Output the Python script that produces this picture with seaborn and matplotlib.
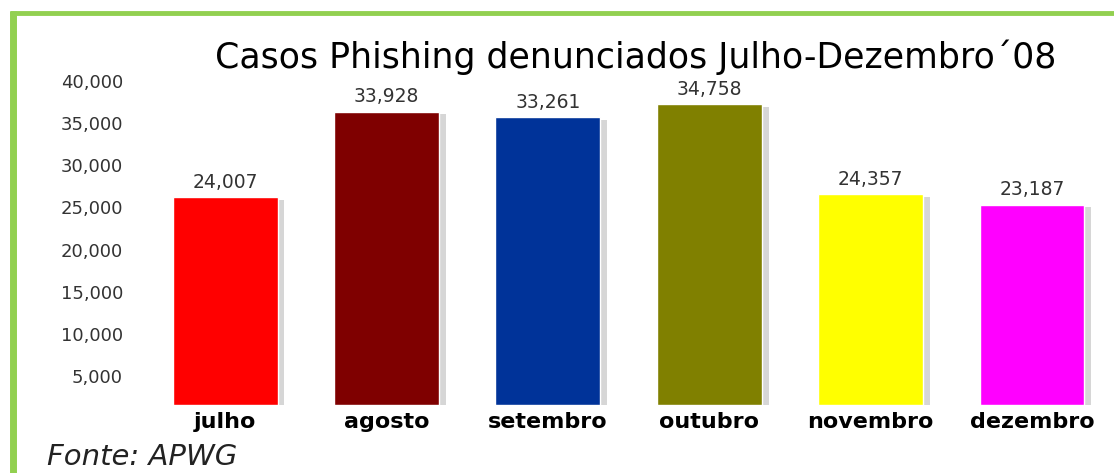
import numpy as np
import pandas as pd
import matplotlib
matplotlib.use("Agg")
import matplotlib.pyplot as plt
import matplotlib.patheffects as pe
from matplotlib.lines import Line2D
import seaborn as sns

# data
meses = ["julho", "agosto", "setembro", "outubro", "novembro", "dezembro"]
casos = [24007, 33928, 33261, 34758, 24357, 23187]
cores = ["#ff0000", "#7f0000", "#003399", "#808000", "#ffff00", "#ff00ff"]
ticks = [5000, 10000, 15000, 20000, 25000, 30000, 35000, 40000]

df = pd.DataFrame({"mes": meses, "casos": casos})

sns.set_style("white")
plt.rcParams['font.family'] = ['DejaVu Sans']

fig = plt.figure(figsize=(11.14, 4.73), dpi=100)
W, H = 1114, 473
ax = fig.add_axes([130 / W, (H - 405) / H, (1110 - 130) / W, (405 - 60) / H])

sns.barplot(data=df, x="mes", y="casos", hue="mes", palette=cores,
            legend=False, width=0.65, saturation=1, ax=ax)

shadow = [pe.SimplePatchShadow(offset=(5, -2), shadow_rgbFace="#999999", alpha=0.4), pe.Normal()]
for c in ax.containers:
    for p in c:
        p.set_path_effects(shadow)
    ax.bar_label(c, labels=["{:,}".format(int(v)) for v in c.datavalues],
                 padding=4, fontsize=13.5, color="#333333")

ax.set_xlim(-0.589, 5.483)
ax.set_ylim(0, 39900)
ax.set_yticks([])
ax.set_xlabel("")
ax.set_ylabel("")
ax.tick_params(axis="x", length=0, pad=5)
for lab in ax.get_xticklabels():
    lab.set_fontsize(16)
    lab.set_fontweight("bold")
    lab.set_color("black")
sns.despine(ax=ax, left=True, bottom=True)

# eixo dos rótulos (deslocado como no original)
ax2 = ax.twinx()
ax2.yaxis.tick_left()
ax2.set_ylim(1560, 42490)
ax2.set_yticks(ticks)
ax2.set_yticklabels(["{:,}".format(t) for t in ticks], fontsize=13, color="#333333")
ax2.tick_params(axis="y", length=0, pad=5)
for s in ax2.spines.values():
    s.set_visible(False)

fig.text(636 / W, 1 - 57 / H, "Casos Phishing denunciados Julho-Dezembro\u00b408",
         ha="center", va="center", fontsize=25, color="black")
fig.text(47 / W, 1 - 457 / H, "Fonte: APWG", ha="left", va="center",
         fontsize=21, style="italic", color="#222222")

# moldura verde
fig.add_artist(Line2D([13 / W, 13 / W], [0, 1 - 11 / H], color="#92d050", lw=5,
                      solid_capstyle="butt"))
fig.add_artist(Line2D([10 / W, 1], [1 - 13 / H, 1 - 13 / H], color="#92d050", lw=3.5,
                      solid_capstyle="butt"))

fig.savefig("out.png", dpi=100)
